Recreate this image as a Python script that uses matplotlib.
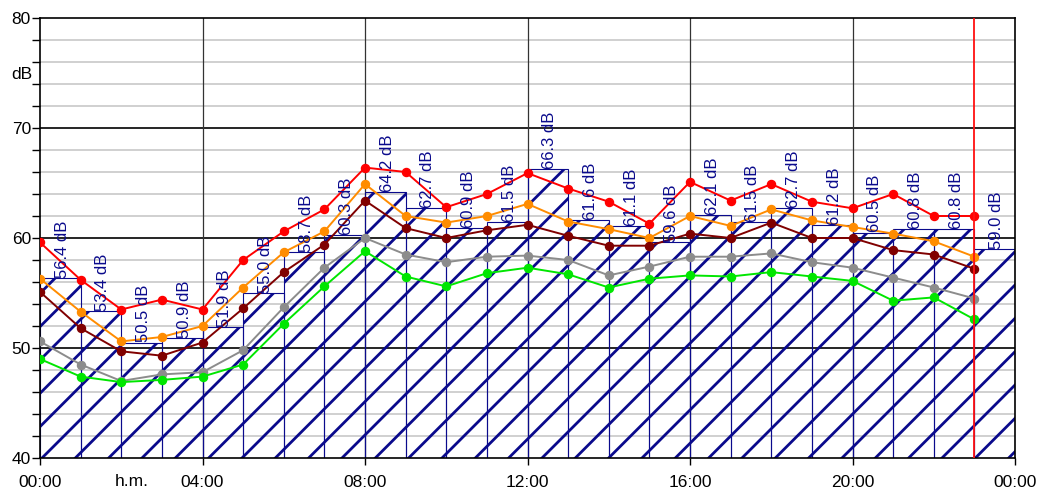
import numpy as np
import matplotlib
matplotlib.use("Agg")
import matplotlib.pyplot as plt

# hourly levels (bars) and the five statistical curves, one point per hour
hours = np.arange(24)
hourly_leq = [56.4, 53.4, 50.5, 50.9, 51.9, 55.0, 58.7, 60.3, 64.2, 62.7, 60.9, 61.5,
              66.3, 61.6, 61.1, 59.6, 62.1, 61.5, 62.7, 61.2, 60.5, 60.8, 60.8, 59.0]

curve_red = [59.6, 56.2, 53.5, 54.4, 53.5, 58.0, 60.6, 62.6, 66.4, 66.0, 62.8, 64.0,
             65.9, 64.5, 63.3, 61.3, 65.1, 63.4, 64.9, 63.3, 62.7, 64.0, 62.0, 62.0]
curve_orange = [56.3, 53.3, 50.6, 51.0, 52.0, 55.5, 58.7, 60.6, 64.9, 62.0, 61.4, 62.0,
                63.1, 61.5, 60.8, 60.0, 62.0, 61.1, 62.6, 61.6, 61.0, 60.4, 59.7, 58.3]
curve_darkred = [55.1, 51.8, 49.7, 49.3, 50.5, 53.6, 56.9, 59.4, 63.4, 60.9, 60.0, 60.7,
                 61.2, 60.2, 59.3, 59.3, 60.4, 60.0, 61.4, 60.0, 60.0, 58.9, 58.5, 57.2]
curve_gray = [50.6, 48.5, 47.0, 47.6, 47.8, 49.8, 53.7, 57.3, 60.0, 58.5, 57.8, 58.3,
              58.4, 58.0, 56.6, 57.4, 58.3, 58.3, 58.6, 57.8, 57.3, 56.4, 55.5, 54.5]
curve_green = [49.0, 47.4, 46.9, 47.1, 47.4, 48.5, 52.2, 55.6, 58.8, 56.5, 55.6, 56.8,
               57.3, 56.7, 55.5, 56.3, 56.6, 56.5, 56.9, 56.5, 56.1, 54.3, 54.6, 52.6]

cursor_hour = 23
xtick_pos = [0, 4, 8, 12, 16, 20, 24]
xtick_labels = ["00:00", "04:00", "08:00", "12:00", "16:00", "20:00", "00:00"]

plt.rcParams['font.family'] = ['Liberation Sans', 'DejaVu Sans']
plt.rcParams['hatch.linewidth'] = 2.0

navy = '#0a0a8c'

fig = plt.figure(figsize=(10.47, 4.91), dpi=100)
ax = fig.add_axes([40/1047, 33/491, 975/1047, 440/491])

# grid: light every 2 dB, black every 10 dB and every 4 hours
for v in range(42, 80, 2):
    if v % 10:
        ax.axhline(v, color='#c8c8c8', lw=1.2, zorder=0)
for v in (50, 60, 70):
    ax.axhline(v, color='black', lw=1.2, zorder=0.5)
for h in (4, 8, 12, 16, 20):
    ax.axvline(h, color='#333333', lw=0.9, zorder=0.5)

bars = ax.bar(hours, hourly_leq, width=1, align='edge', bottom=0,
              facecolor='none', edgecolor=navy, hatch='/', lw=0.8, zorder=1)

for h, v in zip(hours, hourly_leq):
    ax.text(h + 0.55, v, f"{v:.1f} dB", rotation=90, ha='center', va='bottom',
            color=navy, fontsize=12, zorder=4)

for vals, col in ((curve_red, '#ff0000'), (curve_orange, '#ff8c00'),
                  (curve_darkred, '#800000'), (curve_gray, '#8c8c8c'),
                  (curve_green, '#00e600')):
    ax.plot(hours, vals, color=col, lw=1.4, marker='o', ms=5.8, zorder=3)

ax.axvline(cursor_hour, color='#ff1010', lw=1.3, zorder=3)

ax.set_xlim(0, 24)
ax.set_ylim(40, 80)
ax.set_xticks(xtick_pos)
ax.set_xticklabels(xtick_labels)
ax.set_yticks([40, 50, 60, 70, 80])
ax.set_yticks(np.arange(42, 80, 2), minor=True)
ax.tick_params(axis='y', which='both', direction='out', length=6, width=1,
               labelsize=12.5, pad=0.5)
ax.tick_params(axis='x', which='major', direction='out', length=5, width=1,
               labelsize=12.5, pad=7)
for s in ax.spines.values():
    s.set_color('black')
    s.set_linewidth(1.2)

ax.text(-0.2, 74.9, "dB", ha='right', va='center', fontsize=12.5)
ax.text(2.25, 37.9, "h.m.", ha='center', va='center', fontsize=12.5, clip_on=False)

fig.savefig("out.png", dpi=100)
